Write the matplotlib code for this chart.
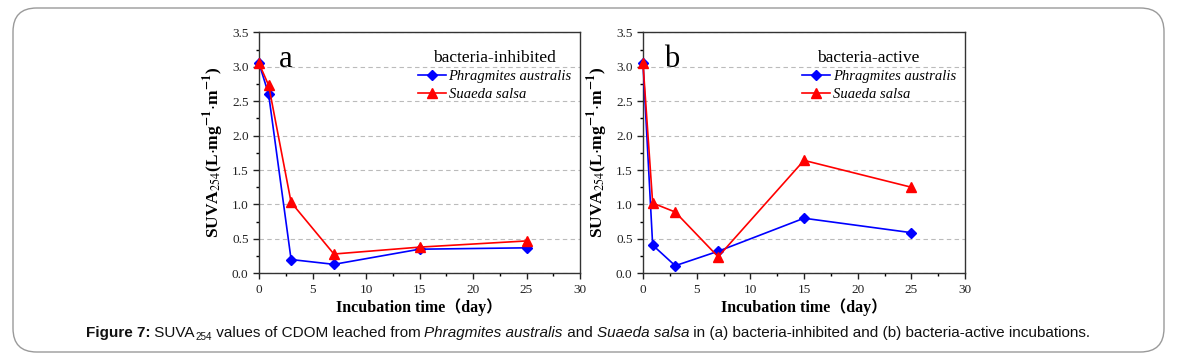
import matplotlib
matplotlib.use('Agg')
from matplotlib import pyplot as plt
from matplotlib.patches import FancyBboxPatch
from matplotlib.ticker import MultipleLocator, FormatStrFormatter

# Data
days = [0, 0.9, 3, 7, 15, 25]
phrag_inhibited = [3.05, 2.60, 0.20, 0.13, 0.35, 0.37]
suaeda_inhibited = [3.05, 2.73, 1.03, 0.28, 0.38, 0.47]
phrag_active = [3.05, 0.41, 0.11, 0.32, 0.80, 0.59]
suaeda_active = [3.05, 1.02, 0.89, 0.24, 1.64, 1.25]
panels = [('a', 'bacteria-inhibited', phrag_inhibited, suaeda_inhibited),
          ('b', 'bacteria-active', phrag_active, suaeda_active)]

# Config
W, H = 1183, 364
SERIF = ['Liberation Serif', 'Noto Sans CJK SC']
BLUE = '#0000FF'
RED = '#FF0000'

plt.rcParams['font.family'] = SERIF
plt.rcParams['mathtext.fontset'] = 'stix'

fig = plt.figure(figsize=(W / 100, H / 100), dpi=100)

# rounded frame around the whole figure
frame = FancyBboxPatch((13 / W, 1 - 352 / H), (1164 - 13) / W, (352 - 8) / H,
                       boxstyle='round,pad=0,rounding_size=0.02',
                       transform=fig.transFigure, facecolor='none',
                       edgecolor='#9a9a9a', linewidth=1.0, mutation_aspect=W / H)
fig.patches.append(frame)

# pixel extents of the two panels, plus per-panel text placement
axes_px = [(259, 580), (643, 965)]
title_x = [0.735, 0.70]
letter_x = [0.062, 0.065]
y_top, y_bot = 32.3, 273.3

for (x0, x1), tx, lx, (letter, title, phrag, suaeda) in zip(axes_px, title_x, letter_x, panels):
    ax = fig.add_axes([x0 / W, 1 - y_bot / H, (x1 - x0) / W, (y_bot - y_top) / H])
    ax.set_xlim(0, 30)
    ax.set_ylim(0, 3.5)
    ax.xaxis.set_major_locator(MultipleLocator(5))
    ax.xaxis.set_minor_locator(MultipleLocator(2.5))
    ax.yaxis.set_major_locator(MultipleLocator(0.5))
    ax.yaxis.set_minor_locator(MultipleLocator(0.25))
    ax.yaxis.set_major_formatter(FormatStrFormatter('%.1f'))
    ax.tick_params(which='major', direction='out', length=4, width=1, labelsize=9.5,
                   colors='#222222')
    ax.tick_params(which='minor', direction='out', length=2.5, width=1)
    for sp in ax.spines.values():
        sp.set_linewidth(1.0)
        sp.set_color('#333333')
    ax.grid(axis='y', which='major', linestyle=(0, (4, 3)), color='#bbbbbb', linewidth=0.8)
    ax.set_axisbelow(True)

    ax.plot(days, phrag, color=BLUE, marker='D', markersize=5.5, linewidth=1.2,
            label='Phragmites australis', clip_on=False, zorder=3)
    ax.plot(days, suaeda, color=RED, marker='^', markersize=6.5, linewidth=1.2,
            label='Suaeda salsa', clip_on=False, zorder=3)

    ax.text(lx, 0.858, letter, transform=ax.transAxes, fontsize=22,
            ha='left', va='baseline')
    ax.text(tx, 0.878, title, transform=ax.transAxes, fontsize=12.5,
            ha='center', va='baseline')
    ax.legend(loc='upper left', bbox_to_anchor=(0.495, 0.845), frameon=False,
              prop={'family': SERIF, 'style': 'italic', 'size': 10.5},
              handlelength=1.9, handletextpad=0.2, labelspacing=0.35,
              borderaxespad=0, borderpad=0)

    ax.set_xlabel('Incubation time（day）', fontsize=11.5, fontweight='bold', labelpad=2)
    ax.set_ylabel(r'SUVA$_{254}$(L$\cdot$mg$^{\mathbf{-1}}$$\cdot$m$^{\mathbf{-1}}$)',
                  fontsize=12.5, fontweight='bold', labelpad=4)

# caption, assembled piece by piece
pieces = [('Figure 7:', 'bold', 'normal', 0),
          (' SUVA', 'normal', 'normal', 0),
          ('254', 'normal', 'normal', 1),
          (' values of CDOM leached from ', 'normal', 'normal', 0),
          ('Phragmites australis', 'normal', 'italic', 0),
          (' and ', 'normal', 'normal', 0),
          ('Suaeda salsa', 'normal', 'italic', 0),
          (' in (a) bacteria-inhibited and (b) bacteria-active incubations.', 'normal', 'normal', 0)]
cap_size = 11.0
renderer = fig.canvas.get_renderer()


def advance(txt, **kw):
    # width including leading/trailing spaces: measure with a bar on each side
    a = fig.text(0, 0, '|' + txt + '|', **kw)
    b = fig.text(0, 0, '||', **kw)
    w = a.get_window_extent(renderer).width - b.get_window_extent(renderer).width
    a.remove()
    b.remove()
    return w


x = 86
y = 1 - 333 / H
for txt, weight, style, sub in pieces:
    size = cap_size * 0.65 if sub else cap_size
    yy = y - (4 / H if sub else 0)
    kw = dict(fontsize=size, fontweight=weight, fontstyle=style,
              family='Liberation Sans', ha='left', va='center', color='#111111')
    fig.text(x / W, yy, txt, **kw)
    x += advance(txt, **kw)

fig.savefig('out.png', dpi=100)
